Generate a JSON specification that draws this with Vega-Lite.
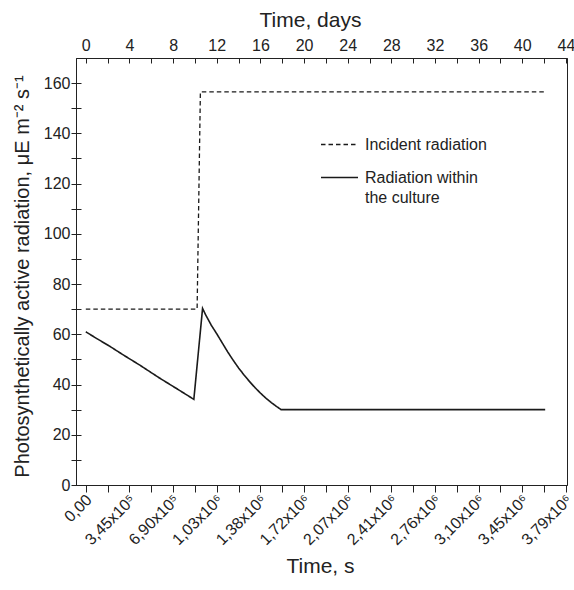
{
  "$schema": "https://vega.github.io/schema/vega-lite/v6.json",
  "width": 491,
  "height": 427,
  "autosize": {"type": "none"},
  "padding": {"left": 76, "top": 58, "right": 7, "bottom": 105},
  "background": "white",
  "config": {
    "font": "Liberation Sans",
    "view": {"stroke": "#222", "strokeWidth": 1},
    "style": {"guide-label": {"lineHeight": 20}},
    "axis": {
      "grid": false,
      "domainColor": "#222",
      "tickColor": "#222",
      "labelColor": "#222",
      "titleColor": "#222",
      "labelFont": "Liberation Sans",
      "titleFont": "Liberation Sans",
      "titleFontWeight": "normal",
      "labelFontSize": 16,
      "titleFontSize": 21,
      "labelFlush": false,
      "labelOverlap": false,
      "labelBound": false
    },
    "legend": {
      "labelFont": "Liberation Sans",
      "labelFontSize": 16,
      "labelColor": "#222"
    }
  },
  "data": {
    "values": [
      {"series": "Incident radiation", "day": 0, "value": 70},
      {"series": "Incident radiation", "day": 10.2, "value": 70},
      {"series": "Incident radiation", "day": 10.5, "value": 156.5},
      {"series": "Incident radiation", "day": 42.1, "value": 156.5},
      {"series": "Radiation within the culture", "day": 0, "value": 61},
      {"series": "Radiation within the culture", "day": 1, "value": 58.3},
      {"series": "Radiation within the culture", "day": 2.17, "value": 55.3},
      {"series": "Radiation within the culture", "day": 3.5, "value": 51.6},
      {"series": "Radiation within the culture", "day": 4.92, "value": 47.8},
      {"series": "Radiation within the culture", "day": 6.75, "value": 42.6},
      {"series": "Radiation within the culture", "day": 8.28, "value": 38.5},
      {"series": "Radiation within the culture", "day": 9.9, "value": 34.1},
      {"series": "Radiation within the culture", "day": 10.7, "value": 70.3},
      {"series": "Radiation within the culture", "day": 11, "value": 67.6},
      {"series": "Radiation within the culture", "day": 11.5, "value": 63.6},
      {"series": "Radiation within the culture", "day": 12, "value": 60.2},
      {"series": "Radiation within the culture", "day": 12.5, "value": 56.6},
      {"series": "Radiation within the culture", "day": 13, "value": 53.0},
      {"series": "Radiation within the culture", "day": 13.5, "value": 49.7},
      {"series": "Radiation within the culture", "day": 14, "value": 46.6},
      {"series": "Radiation within the culture", "day": 14.5, "value": 43.8},
      {"series": "Radiation within the culture", "day": 15, "value": 41.2},
      {"series": "Radiation within the culture", "day": 15.5, "value": 38.8},
      {"series": "Radiation within the culture", "day": 16, "value": 36.6},
      {"series": "Radiation within the culture", "day": 16.5, "value": 34.6},
      {"series": "Radiation within the culture", "day": 17, "value": 32.8},
      {"series": "Radiation within the culture", "day": 17.5, "value": 31.2},
      {"series": "Radiation within the culture", "day": 17.9, "value": 30},
      {"series": "Radiation within the culture", "day": 42.1, "value": 30}
    ]
  },
  "layer": [
    {
      "transform": [{"filter": "datum.series == 'Incident radiation'"}],
      "mark": {"type": "line", "color": "#1a1a1a", "strokeWidth": 1.3},
      "encoding": {
        "x": {
          "field": "day", "type": "quantitative",
          "scale": {"domain": [-0.9, 44.1], "nice": false, "zero": false},
          "axis": {
            "orient": "bottom",
            "values": [0,2,4,6,8,10,12,14,16,18,20,22,24,26,28,30,32,34,36,38,40,42,44],
            "labelExpr": "datum.value % 4 == 0 ? ['0,00','3,45x10⁵','6,90x10⁵','1,03x10⁶','1,38x10⁶','1,72x10⁶','2,07x10⁶','2,41x10⁶','2,76x10⁶','3,10x10⁶','3,45x10⁶','3,79x10⁶'][datum.value / 4] : ''",
            "labelAngle": -45,
            "labelAlign": "right",
            "labelBaseline": "middle",
            "labelPadding": 5,
            "labelOffset": 3,
            "tickSize": 7,
            "title": "Time, s",
            "titleX": 244,
            "titleY": 87,
            "titleAlign": "center",
            "titleBaseline": "alphabetic",
            "titleAngle": 0
          }
        },
        "y": {
          "field": "value", "type": "quantitative",
          "scale": {"domain": [0, 170], "nice": false},
          "axis": {
            "orient": "left",
            "values": [0,10,20,30,40,50,60,70,80,90,100,110,120,130,140,150,160],
            "labelExpr": "datum.value % 20 == 0 ? datum.label : ''",
            "tickSize": 5,
            "labelPadding": 1,
            "title": "Photosynthetically active radiation, μE m⁻² s⁻¹",
            "titleFontSize": 20,
            "titleX": -54,
            "titleY": 218,
            "titleAngle": -90,
            "titleAlign": "center",
            "titleBaseline": "middle"
          }
        },
        "strokeDash": {
          "field": "series", "type": "nominal",
          "scale": {"domain": ["Incident radiation", "Radiation within the culture"], "range": [[4.5, 3], [1, 0]]},
          "legend": {
            "orient": "none",
            "legendX": 244,
            "legendY": 67,
            "title": null,
            "padding": 0,
            "symbolType": "stroke",
            "symbolSize": 1369,
            "symbolStrokeWidth": 1.5,
            "symbolStrokeColor": "#1a1a1a",
            "labelOffset": 6,
            "rowPadding": 5,
            "labelExpr": "datum.label == 'Radiation within the culture' ? ['Radiation within', 'the culture'] : datum.label"
          }
        }
      }
    },
    {
      "transform": [{"filter": "datum.series == 'Radiation within the culture'"}],
      "mark": {"type": "line", "color": "#1a1a1a", "strokeWidth": 1.6},
      "encoding": {
        "x": {
          "field": "day", "type": "quantitative",
          "scale": {"domain": [-0.9, 44.1], "nice": false, "zero": false},
          "axis": {
            "orient": "top",
            "values": [0,2,4,6,8,10,12,14,16,18,20,22,24,26,28,30,32,34,36,38,40,42,44],
            "labelExpr": "datum.value % 4 == 0 ? datum.label : ''",
            "labelAngle": 0,
            "tickSize": -5,
            "labelPadding": 10,
            "domain": true,
            "title": "Time, days",
            "titleX": 234,
            "titleY": -32,
            "titleAlign": "center",
            "titleBaseline": "alphabetic"
          }
        },
        "y": {
          "field": "value", "type": "quantitative",
          "scale": {"domain": [0, 170], "nice": false},
          "axis": {
            "orient": "left",
            "values": [0,10,20,30,40,50,60,70,80,90,100,110,120,130,140,150,160],
            "labels": false,
            "domain": false,
            "tickSize": -5,
            "title": null
          }
        },
        "strokeDash": {"field": "series", "type": "nominal"}
      }
    }
  ],
  "resolve": {"axis": {"x": "independent", "y": "independent"}}
}
